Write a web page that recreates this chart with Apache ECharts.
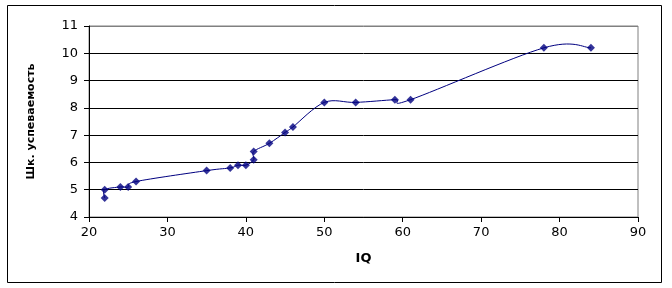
<!DOCTYPE html>
<html><head><meta charset="utf-8">
<script src="https://cdn.jsdelivr.net/npm/echarts@6/dist/echarts.min.js"></script>
<style>html,body{margin:0;padding:0;background:#fff}#c{width:672px;height:288px}</style>
</head><body><div id="c"></div>
<script>
const iqValues = [22, 22, 24, 25, 26, 35, 38, 39, 40, 41, 41, 43, 45, 46, 50, 54, 59, 61, 78, 84];
const gradeValues = [4.7, 5.0, 5.1, 5.1, 5.3, 5.7, 5.8, 5.9, 5.9, 6.1, 6.4, 6.7, 7.1, 7.3, 8.2, 8.2, 8.3, 8.3, 10.2, 10.2];
const xTitle = 'IQ';
const yTitle = 'Шк. успеваемость';

const points = iqValues.map((x, i) => [x, gradeValues[i]]);
const chart = echarts.init(document.getElementById('c'), null, {renderer: 'canvas'});
const font = 'DejaVu Sans, Arial, sans-serif';

// Excel-like smoothed connector: Catmull-Rom style bezier between consecutive data points
function renderSegment(params, api) {
  const i = params.dataIndexInside;
  const n = params.dataInsideLength;
  if (i >= n - 1) return null;
  const c = k => {
    const kk = Math.max(0, Math.min(n - 1, k));
    return api.coord([api.value(0, kk), api.value(1, kk)]);
  };
  const p0 = c(i - 1), p1 = c(i), p2 = c(i + 1), p3 = c(i + 2);
  const t = 1 / 6;
  const cp1 = [p1[0] + (p2[0] - p0[0]) * t, p1[1] + (p2[1] - p0[1]) * t];
  const cp2 = [p2[0] - (p3[0] - p1[0]) * t, p2[1] - (p3[1] - p1[1]) * t];
  return {
    type: 'bezierCurve',
    shape: {x1: p1[0], y1: p1[1], x2: p2[0], y2: p2[1], cpx1: cp1[0], cpy1: cp1[1], cpx2: cp2[0], cpy2: cp2[1]},
    style: {fill: null, stroke: '#000080', lineWidth: 1}
  };
}

chart.setOption({
  animation: false,
  backgroundColor: '#fff',
  graphic: [{type: 'rect', shape: {x: 7.5, y: 5.5, width: 654, height: 277}, style: {fill: 'none', stroke: '#000', lineWidth: 1}, z: 100}],
  grid: {left: 89, right: 34, top: 26, bottom: 71, show: true, borderColor: '#808080', borderWidth: 1},
  xAxis: {
    type: 'value', min: 20, max: 90, interval: 10,
    name: xTitle, nameLocation: 'middle', nameGap: 35,
    nameTextStyle: {fontFamily: font, fontSize: 13, fontWeight: 'bold', color: '#000'},
    axisLine: {lineStyle: {color: '#000', width: 1}},
    axisTick: {show: true, length: 5, lineStyle: {color: '#000'}},
    axisLabel: {fontFamily: font, fontSize: 13, color: '#000', margin: 9},
    splitLine: {show: false}
  },
  yAxis: {
    type: 'value', min: 4, max: 11, interval: 1,
    name: yTitle, nameLocation: 'middle', nameGap: 52, nameRotate: 90,
    nameTextStyle: {fontFamily: font, fontSize: 11, fontWeight: 'bold', color: '#000'},
    axisLine: {show: true, lineStyle: {color: '#000', width: 1}},
    axisTick: {show: true, length: 5, lineStyle: {color: '#000'}},
    axisLabel: {fontFamily: font, fontSize: 13, color: '#000', margin: 11},
    splitLine: {show: true, lineStyle: {color: ['#000','#000','#000','#000','#000','#000','#000','#808080'], width: 1}}
  },
  series: [{
    type: 'custom',
    renderItem: renderSegment,
    data: points,
    encode: {x: 0, y: 1},
    clip: true,
    z: 4
  }, {
    type: 'scatter',
    data: points,
    symbol: 'diamond', symbolSize: 8,
    itemStyle: {color: '#000080'},
    z: 5
  }]
});
</script></body></html>
